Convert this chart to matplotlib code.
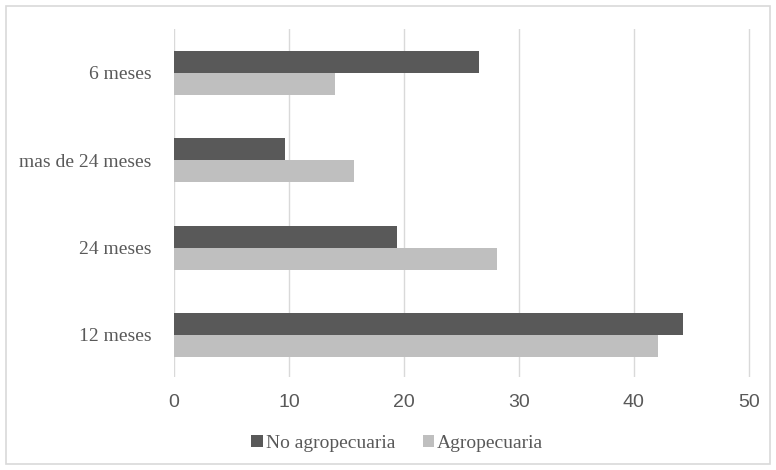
import matplotlib.pyplot as plt
import numpy as np
from matplotlib.patches import Rectangle

categories = ['12 meses', '24 meses', 'mas de 24 meses', '6 meses']
no_agro = [44.3, 19.4, 9.7, 26.5]
agro = [42.1, 28.1, 15.7, 14.0]
series_names = ['No agropecuaria', 'Agropecuaria']
xticks = [0, 10, 20, 30, 40, 50]

dark = '#595959'
light = '#bfbfbf'

fig = plt.figure(figsize=(7.76, 4.70), dpi=100)
ax = fig.add_axes([0.2242, 0.198, 0.7436, 0.740])

y = np.arange(len(categories))
h = 0.252
ax.barh(y + h / 2, no_agro, height=h, color=dark, label=series_names[0], zorder=3)
ax.barh(y - h / 2, agro, height=h, color=light, label=series_names[1], zorder=3)

ax.set_xlim(0, 50.2)
ax.set_ylim(-0.48, 3.5)
ax.set_xticks(xticks)
ax.set_xticklabels([str(t) for t in xticks], family='Liberation Sans', fontsize=14, color='#595959')
ax.set_yticks(y)
ax.set_yticklabels(categories, family='Liberation Serif', fontsize=14, color='#595959')
ax.tick_params(axis='both', length=0)
ax.tick_params(axis='x', pad=12)
ax.tick_params(axis='y', pad=16)
ax.grid(axis='x', color='#d9d9d9', linewidth=1, zorder=0)
for s in ax.spines.values():
    s.set_visible(False)

leg = fig.legend(loc='center', bbox_to_anchor=(0.512, 0.0574), ncol=2, frameon=False,
                 prop={'family': 'Liberation Serif', 'size': 14},
                 handlelength=0.6, handleheight=0.6, handletextpad=0.15, columnspacing=1.4)
for t in leg.get_texts():
    t.set_color('#595959')

fig.patches.append(Rectangle((0.008, 0.012), 0.984, 0.976, transform=fig.transFigure,
                             fill=False, edgecolor='#d9d9d9', linewidth=1.2))

fig.savefig('out.png', dpi=100)
